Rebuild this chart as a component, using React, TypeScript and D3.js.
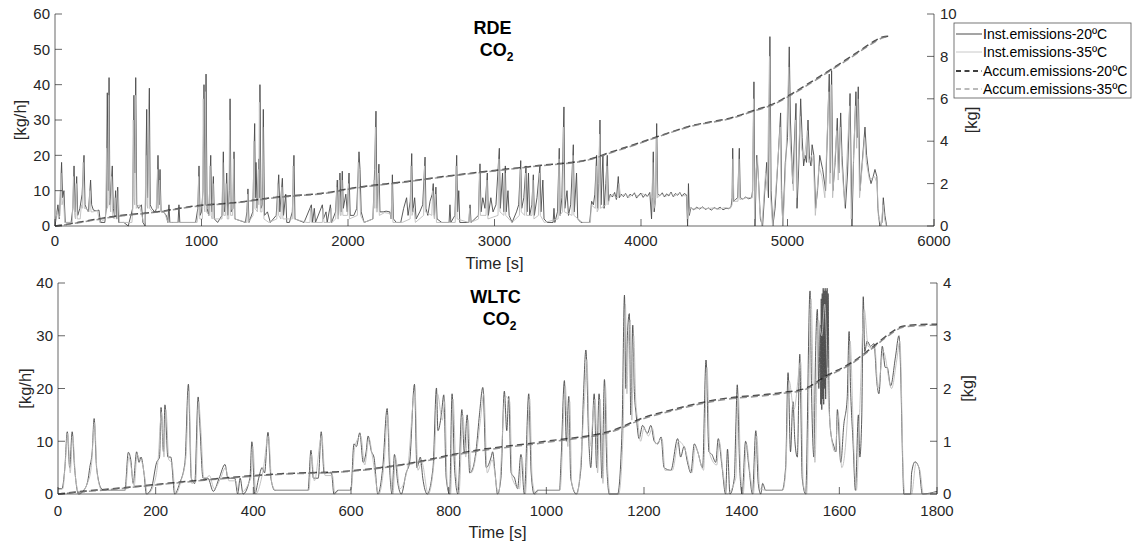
import React from 'react';
import * as d3 from 'd3';

type P = [number, number];

// ---------- RDE (top) ----------
const rdeXTicks = [0, 1000, 2000, 3000, 4000, 5000, 6000];
const rdeYTicks = [0, 10, 20, 30, 40, 50, 60];
const rdeY2Ticks = [0, 2, 4, 6, 8, 10];

const rdeInst20: P[] = [[0,0],[10,3],[20,6],[30,2],[45,18],[52,8],[61,10],[70,1],[90,1],[110,1],[122,5],[130,17],[138,4],[148,14],[155,3],[170,5],[185,9],[198,20],[205,6],[215,5],[228,4],[243,13],[250,6],[262,4.5],[280,4.3],[300,4.5],[310,1],[340,1],[350,5],[357,37.7],[363,10],[369,42],[375,6],[391,17],[398,5],[406,3],[414,10],[420,2],[428,11],[435,1],[470,1],[500,0],[530,5],[539,37],[545,15],[551,42],[558,6],[570,5],[590,6],[600,1],[615,0],[626,33],[632,8],[644,39],[650,6],[660,5],[680,4],[695,5],[703,20],[710,6],[717,16],[724,4],[740,4],[760,3],[770,1],[778,6],[784,1],[840,1],[846,6],[852,1],[960,1],[975,5],[983,17],[990,3],[1000,4],[1010,10],[1017,40],[1024,6],[1031,43],[1038,5],[1050,3],[1063,20],[1070,4],[1081,14],[1088,2],[1110,1],[1140,3],[1149,21],[1156,4],[1165,6],[1172,15],[1180,3],[1190,10],[1195,36],[1202,4],[1215,5],[1222,21],[1228,2],[1300,1],[1310,4],[1317,10.5],[1324,1],[1350,4],[1363,29],[1368,8],[1372,18],[1380,5],[1392,19],[1396,8],[1399,40],[1406,5],[1415,6],[1422,33],[1430,3],[1450,4],[1470,1],[1510,3],[1527,14.5],[1535,4],[1552,13.5],[1560,3],[1575,9],[1582,1],[1600,1],[1620,4],[1631,20],[1638,2],[1700,1],[1750,6],[1758,1],[1770,5],[1778,1],[1825,6],[1832,2],[1850,4],[1858,1],[1880,6],[1888,1],[1915,4],[1927,13],[1935,3],[1945,15],[1953,4],[1961,15.5],[1968,5],[1985,9],[1995,4],[2007,15],[2015,3],[2040,3],[2060,5],[2075,21],[2082,16],[2090,4],[2110,1],[2170,2],[2182,16],[2191,32.5],[2198,5],[2211,17.5],[2218,4],[2240,4],[2260,4.2],[2285,4],[2295,2],[2303,14.5],[2310,2],[2330,1],[2360,1],[2380,5],[2400,8],[2410,3],[2425,7],[2435,20.5],[2442,4],[2455,8],[2465,2],[2490,4],[2510,6],[2526,19.5],[2532,5],[2545,3],[2560,7],[2575,9],[2582,12],[2590,3],[2600,11],[2608,2],[2640,1],[2690,1],[2696,6],[2702,1],[2730,3],[2742,20],[2748,4],[2756,10],[2763,1],[2825,1],[2833,6],[2840,1],[2890,3],[2901,17.6],[2908,4],[2920,8],[2935,5],[2951,15],[2958,3],[2975,8],[2990,4],[3010,6],[3033,22],[3040,5],[3055,15],[3063,4],[3074,17],[3080,4],[3092,10],[3100,3],[3120,1],[3150,4],[3165,6],[3179,18.5],[3186,5],[3200,8],[3215,17],[3222,4],[3232,15],[3240,3],[3255,6],[3265,14.5],[3272,3],[3290,8],[3310,17],[3317,4],[3330,13],[3338,2],[3360,1],[3400,1],[3406,5],[3412,1],[3430,4],[3442,22],[3448,3],[3460,8],[3474,33.7],[3480,5],[3495,10],[3505,3],[3520,6],[3538,23],[3545,4],[3560,15],[3568,2],[3590,1],[3650,1],[3663,7],[3675,6],[3685,9],[3697,20],[3704,5],[3712,12],[3720,30],[3727,6],[3740,20],[3748,5],[3760,12],[3770,20],[3778,7],[3790,9],[3805,8.2],[3820,9.5],[3832,7.5],[3845,14],[3852,8],[3865,9],[3880,8.3],[3895,9.2],[3910,8],[3925,9],[3940,8.5],[3955,9.4],[3970,7.9],[3985,8.8],[4000,9.3],[4015,8.1],[4030,9],[4045,8.4],[4060,9.5],[4072,2],[4084,21],[4090,4],[4100,8],[4107,29],[4114,9],[4130,8.6],[4145,9.4],[4160,8.2],[4175,9.1],[4190,8.5],[4205,9.6],[4220,8.3],[4235,9.2],[4250,8.7],[4265,9.5],[4280,8.4],[4295,9.2],[4311,8.8],[4318,0],[4324,12],[4330,3],[4340,5.2],[4360,4.6],[4380,5.3],[4400,4.8],[4420,5.4],[4440,4.7],[4460,5.1],[4480,4.5],[4500,5.2],[4520,4.8],[4540,5.3],[4560,4.6],[4580,5],[4600,4.9],[4615,5.5],[4622,8],[4626,22],[4632,7],[4645,7.5],[4660,8],[4671,22],[4678,8],[4695,7.6],[4715,8.2],[4735,7.7],[4755,8],[4762,10],[4771,40.8],[4778,0],[4790,20],[4800,15],[4815,2],[4830,0],[4845,10],[4858,18],[4870,8],[4880,53.6],[4888,10],[4900,0],[4915,5],[4930,15],[4953,32],[4960,10],[4968,0],[4985,18],[5000,25],[5012,50.7],[5020,30],[5035,12],[5058,34.7],[5065,5],[5075,15],[5090,36],[5100,25],[5110,17],[5120,20],[5130,18],[5140,30],[5150,19],[5160,17],[5168,23],[5180,20],[5192,5],[5205,10],[5220,20],[5240,16],[5260,10],[5285,43],[5293,15],[5301,44],[5310,10],[5325,18],[5340,30.5],[5350,15],[5363,32],[5372,20],[5385,10],[5395,5],[5410,15],[5427,37.5],[5440,0],[5452,20],[5467,38],[5475,25],[5483,39.4],[5495,10],[5510,18],[5529,28],[5540,20],[5555,15],[5570,12],[5585,14],[5597,16],[5610,14],[5617,5],[5630,0],[5645,1],[5654,8],[5665,3],[5677,0]];

const rdeInst35: P[] = [[0,1],[15,4],[25,2],[33,3],[40,15],[48,6],[58,8],[66,1],[118,1],[126,14],[134,3],[140,2],[145,12],[152,2],[172,2],[180,6],[186,5],[192,18],[200,5],[212,5],[232,4],[238,10],[246,4],[260,4],[290,4.4],[305,1],[345,2],[352,22],[358,5],[362,6],[366,37],[372,8],[380,4],[386,14],[394,3],[404,2],[410,8],[418,2],[426,2],[432,10],[440,1],[525,1],[530,4],[534,30],[540,8],[544,6],[548,37],[555,5],[575,6],[605,1],[615,1],[620,20],[628,6],[633,5],[638,33],[646,5],[665,4],[690,4],[700,16],[707,5],[714,13],[722,4],[745,4],[772,1],[800,1],[970,1],[976,3],[980,14],[988,2],[1006,2],[1012,36],[1019,5],[1023,4],[1027,38],[1034,4],[1052,3],[1058,17],[1066,3],[1073,2],[1078,12],[1085,2],[1140,2],[1145,18],[1152,3],[1163,3],[1168,12],[1176,2],[1186,2],[1192,30],[1199,3],[1212,3],[1218,19],[1225,2],[1310,1],[1315,9],[1320,1],[1352,3],[1358,24],[1365,5],[1382,4],[1388,16],[1391,6],[1395,35],[1402,4],[1413,4],[1418,28],[1426,2],[1460,1],[1514,2],[1520,12],[1527,3],[1542,2],[1548,11],[1556,2],[1620,2],[1625,17],[1632,2],[1720,1],[1740,1],[1745,5],[1752,1],[1825,1],[1830,5],[1836,1],[1880,1],[1885,5],[1890,1],[1916,2],[1922,11],[1930,2],[1935,2],[1940,13],[1948,3],[1953,3],[1958,13],[1965,3],[1997,3],[2003,12],[2010,2],[2064,3],[2070,18],[2078,12],[2086,3],[2110,1],[2172,2],[2178,13],[2183,5],[2187,28],[2194,4],[2201,4],[2207,15],[2214,3],[2250,3.8],[2290,3.5],[2295,2],[2300,12],[2307,1],[2370,1],[2424,2],[2430,17],[2437,3],[2450,5],[2460,1],[2516,3],[2522,17],[2528,4],[2572,3],[2578,10],[2585,3],[2590,2],[2596,9],[2604,1],[2732,1],[2738,17],[2745,2],[2824,1],[2830,5],[2836,1],[2891,2],[2897,15],[2904,3],[2942,3],[2948,13],[2955,2],[3024,3],[3030,19],[3037,4],[3064,3],[3070,15],[3077,3],[3120,1],[3170,3],[3176,16],[3183,4],[3206,3],[3212,15],[3219,3],[3256,3],[3262,13],[3269,2],[3300,3],[3306,15],[3313,3],[3340,1],[3434,2],[3440,19],[3446,3],[3464,4],[3470,28],[3477,4],[3529,3],[3535,20],[3542,3],[3600,1],[3655,1],[3660,6],[3688,5],[3694,17],[3701,4],[3711,5],[3717,26],[3724,5],[3761,6],[3767,17],[3775,6],[3790,8.5],[3810,9],[3830,8],[3843,8],[3850,12],[3860,8.5],[3890,9],[3920,8.2],[3950,9.1],[3980,8.4],[4010,9.2],[4040,8.3],[4070,9],[4076,8],[4080,18],[4088,5],[4098,7],[4104,25],[4112,8],[4140,9],[4170,8.4],[4200,9.2],[4230,8.5],[4260,9.3],[4290,8.6],[4312,8.5],[4320,2],[4335,5],[4370,4.8],[4410,5.2],[4450,4.9],[4490,5.1],[4530,4.7],[4570,5.2],[4610,5],[4622,6],[4628,19],[4634,7],[4662,7],[4668,19],[4675,7.5],[4720,8],[4760,8],[4768,36],[4775,2],[4785,15],[4795,20],[4810,5],[4825,0],[4850,15],[4862,10],[4877,48],[4885,8],[4898,0],[4920,10],[4950,28],[4958,8],[4970,0],[4990,20],[5008,45],[5016,25],[5040,10],[5055,30],[5062,8],[5087,31],[5095,22],[5115,19],[5135,27],[5145,18],[5165,20],[5178,17],[5190,3],[5215,17],[5235,14],[5255,8],[5282,38],[5290,12],[5298,40],[5308,8],[5336,27],[5346,13],[5360,28],[5370,18],[5390,6],[5424,34],[5435,2],[5450,18],[5464,34],[5472,22],[5480,36],[5492,8],[5526,25],[5538,18],[5560,13],[5594,14],[5612,12],[5620,3],[5640,0],[5652,6],[5662,2],[5675,0]];

const rdeAcc20: P[] = [[0,0],[100,0.1],[200,0.22],[400,0.45],[700,0.67],[1000,0.98],[1200,1.08],[1500,1.35],[1900,1.62],[2000,1.75],[2400,2.1],[2650,2.33],[3000,2.62],[3300,2.85],[3650,3.15],[3780,3.45],[4000,3.95],[4110,4.21],[4340,4.72],[4630,5.13],[4770,5.45],[4900,5.75],[5020,6.2],[5150,6.75],[5300,7.4],[5400,7.85],[5500,8.3],[5600,8.75],[5650,8.92],[5690,8.95]];
const rdeAcc35: P[] = [[0,0],[100,0.09],[200,0.2],[400,0.43],[700,0.66],[1000,0.96],[1200,1.07],[1500,1.33],[1900,1.6],[2000,1.73],[2400,2.08],[2650,2.31],[3000,2.6],[3300,2.83],[3650,3.13],[3780,3.42],[4000,3.92],[4110,4.19],[4340,4.7],[4630,5.1],[4770,5.42],[4900,5.72],[5020,6.16],[5150,6.7],[5300,7.36],[5400,7.8],[5500,8.26],[5600,8.7],[5650,8.88],[5690,8.92]];

// ---------- WLTC (bottom) ----------
const wltcXTicks = [0, 200, 400, 600, 800, 1000, 1200, 1400, 1600, 1800];
const wltcYTicks = [0, 10, 20, 30, 40];
const wltcY2Ticks = [0, 1, 2, 3, 4];

const wltcInst20: P[] = [[0,1],[8,1],[14,4.9],[19,11.8],[24,5],[29,11.8],[34,5],[42,0],[55,1],[62,3],[65,5],[70,8],[74,14.3],[79,5],[89,1],[96,0.7],[137,0.7],[144,7.9],[149,6.5],[154,2],[161,8],[166,6],[170,7],[176,4],[181,0],[191,1],[202,6],[208,7],[211,16.4],[216,8],[219,16.9],[225,7],[231,7],[239,0],[249,2],[260,6],[267,20.8],[273,3],[280,2],[287,18.4],[290,14],[297,3],[307,3],[318,0.5],[330,3],[342,5.6],[348,3],[362,3],[368,0],[373,3],[379,0],[393,3],[397,9.9],[403,0],[411,3],[418,5],[423,4],[430,11.7],[436,3],[444,0.7],[512,0.7],[518,8.3],[523,3],[533,3],[539,11.8],[545,4],[553,4],[560,4],[565,0],[573,0.7],[597,0.7],[600,1],[606,9.5],[611,9],[618,11.6],[625,6],[631,8],[635,11],[642,8],[647,7],[655,0],[665,5],[674,16.2],[679,5],[684,0],[689,7.5],[696,2],[703,0],[713,4],[720,6],[730,20.8],[735,5],[742,7],[747,3],[756,0],[768,5],[775,20.1],[778,12],[785,15],[790,18.8],[795,3],[802,0],[807,19],[812,5],[819,0],[827,16],[832,8],[838,15],[843,4],[850,5],[857,9],[863,15],[870,20.2],[877,5],[887,7],[890,8],[895,4],[900,0],[907,3],[914,19.5],[919,12],[923,18.5],[928,4],[935,3],[941,1],[948,7.5],[955,0],[964,19],[969,4],[975,0],[982,0.7],[1027,0.7],[1030,6],[1037,21.5],[1041,10],[1046,18.5],[1050,3],[1061,0],[1071,5],[1076,18.5],[1081,27.3],[1087,10],[1091,5],[1098,19],[1103,5],[1108,19],[1114,3],[1119,21.7],[1124,5],[1129,0],[1146,0],[1155,12],[1160,37.7],[1163,20],[1166,30],[1170,34.2],[1173,15],[1177,32],[1180,20],[1184,15],[1190,10.5],[1197,13],[1207,11.5],[1214,13],[1221,10],[1228,9.5],[1235,10.8],[1241,5],[1255,4.5],[1269,10.5],[1275,7],[1282,9],[1289,6],[1296,4],[1303,9.5],[1310,8],[1320,5],[1327,25.4],[1333,8],[1339,7.5],[1347,6],[1352,10.5],[1360,5],[1367,0],[1371,8.5],[1376,0],[1385,3],[1388,12.5],[1391,20.7],[1396,5],[1401,0],[1408,10],[1415,5],[1422,0],[1429,12],[1434,2],[1439,0],[1443,2],[1449,0.7],[1483,0.7],[1490,5],[1495,23],[1500,8],[1505,17.5],[1509,10],[1514,7],[1519,26.5],[1521,18],[1524,3],[1531,0],[1540,38.5],[1543,20],[1548,7],[1551,25],[1555,35],[1558,20],[1561,32],[1562,17],[1563,37],[1564,16],[1565,38],[1566,18],[1567,39],[1568,17],[1569,38.5],[1570,20],[1571,39],[1572,18],[1573,38.5],[1574,22],[1575,39],[1576,24],[1577,38],[1579,18],[1582,12],[1589,9],[1593,8],[1596,16],[1603,6],[1609,13],[1616,18],[1620,30.8],[1623,20],[1628,10],[1633,0.7],[1639,15],[1642,7],[1646,15],[1649,37.4],[1652,27],[1657,29],[1664,28],[1671,28.5],[1677,21],[1681,19],[1688,28],[1694,24],[1698,24],[1705,20.5],[1715,26],[1722,30],[1725,25],[1730,5],[1732,0],[1746,0],[1748,4],[1755,6.1],[1763,5],[1770,0],[1800,0.5]];

const wltcInst35: P[] = [[0,0.8],[10,1],[15,6],[20,11.5],[25,4],[30,11],[36,3],[44,0],[60,2],[68,5],[75,13.5],[80,4],[90,0.7],[138,0.7],[145,7],[150,5],[156,1.5],[162,7.5],[168,6.5],[172,6],[178,3],[183,0],[195,1.5],[205,6.5],[212,15.5],[217,7],[221,16],[227,6.5],[233,6],[241,0],[252,2.5],[262,7],[268,19.5],[274,2],[282,2.5],[288,17.5],[292,13],[299,2.5],[310,3.5],[320,1],[333,3],[343,5],[350,2.5],[364,2.5],[370,0],[395,3],[399,9],[405,0],[420,4.5],[431,11],[438,2],[446,0.7],[514,0.7],[519,7.5],[525,2.5],[540,11],[547,3.5],[562,3.5],[567,0],[575,0.7],[600,0.7],[608,9],[620,11],[628,5.5],[637,10.5],[644,7],[657,0],[668,6],[675,15],[681,4],[686,0],[691,7],[700,1],[716,5],[731,19.5],[737,4.5],[745,6],[758,0],[770,6],[777,19],[787,14],[792,17.5],[797,2],[804,0],[809,18],[815,4],[821,0],[829,15],[835,7],[840,14],[846,4],[858,8.5],[865,14],[872,19],[879,4],[889,6.5],[902,0],[916,18.5],[925,17.5],[930,3],[945,1],[950,7],[957,0],[966,18],[971,3],[978,0],[984,0.7],[1028,0.7],[1039,20.5],[1044,9],[1048,17.5],[1052,2],[1063,0],[1078,17.5],[1083,25.5],[1089,9],[1100,18],[1105,4],[1110,18],[1116,2],[1121,20.5],[1126,4],[1131,0],[1148,0],[1157,11],[1162,36],[1165,19],[1168,29],[1172,33],[1175,14],[1179,30],[1183,18],[1187,14],[1193,10],[1200,12.5],[1209,11],[1217,12.5],[1224,9.5],[1237,10.5],[1243,4.5],[1258,4.5],[1271,10],[1284,8.5],[1298,4],[1305,9],[1322,4.5],[1329,24],[1335,7.5],[1349,5.5],[1354,10],[1362,4],[1369,0],[1388,3],[1393,19],[1398,4],[1403,0],[1410,9.5],[1417,4],[1424,0],[1431,11],[1437,1],[1451,0.7],[1484,0.7],[1490,4],[1497,21.5],[1507,16],[1521,25],[1526,2],[1533,0],[1542,37],[1550,6],[1557,33],[1564,30],[1570,36],[1578,17],[1591,8],[1598,15],[1605,5],[1618,17],[1622,29],[1630,8],[1635,0.7],[1641,14],[1651,35],[1659,28],[1673,27.5],[1679,20],[1690,27],[1707,20],[1717,25],[1724,29],[1731,4],[1734,0],[1748,0],[1757,5.8],[1765,4.5],[1772,0],[1800,0.3]];

const wltcAcc20: P[] = [[0,0],[50,0.05],[100,0.09],[200,0.18],[300,0.27],[450,0.38],[600,0.44],[700,0.55],[850,0.82],[1000,1.0],[1140,1.22],[1200,1.45],[1250,1.58],[1350,1.79],[1480,1.92],[1530,2.0],[1570,2.22],[1630,2.52],[1670,2.8],[1700,3.02],[1730,3.18],[1760,3.21],[1800,3.22]];
const wltcAcc35: P[] = [[0,0],[50,0.04],[100,0.08],[200,0.17],[300,0.26],[450,0.37],[600,0.43],[700,0.54],[850,0.8],[1000,0.98],[1140,1.2],[1200,1.43],[1250,1.56],[1350,1.77],[1480,1.9],[1530,1.98],[1570,2.2],[1630,2.5],[1670,2.78],[1700,3.0],[1730,3.16],[1760,3.19],[1800,3.2]];

const legendLabels = ['Inst.emissions-20ºC', 'Inst.emissions-35ºC', 'Accum.emissions-20ºC', 'Accum.emissions-35ºC'];

const FONT = '"Liberation Sans", Arial, Helvetica, sans-serif';
const AX = '#262626';
const C_INST20 = '#4a4a4a';
const C_INST35 = '#bdbdbd';
const C_ACC20 = '#111111';
const C_ACC35 = '#7a7a7a';

type PanelProps = {
  left: number; right: number; top: number; bottom: number;
  xTicks: number[]; yTicks: number[]; y2Ticks: number[];
  inst20: P[]; inst35: P[]; acc20: P[]; acc35: P[]; smooth: boolean;
  title: string; titleY: number; coY: number;
  yLabX: number; y2LabX: number; xTickY: number; xLabY: number;
};

function Panel(p: PanelProps) {
  const x = d3.scaleLinear().domain([p.xTicks[0], p.xTicks[p.xTicks.length - 1]]).range([p.left, p.right]);
  const y = d3.scaleLinear().domain([p.yTicks[0], p.yTicks[p.yTicks.length - 1]]).range([p.bottom, p.top]);
  const y2 = d3.scaleLinear().domain([p.y2Ticks[0], p.y2Ticks[p.y2Ticks.length - 1]]).range([p.bottom, p.top]);
  const l1 = d3.line<P>().x(d => x(d[0])).y(d => y(Math.max(0, d[1]))).curve(p.smooth ? d3.curveMonotoneX : d3.curveLinear);
  const l2 = d3.line<P>().x(d => x(d[0])).y(d => y2(d[1])).curve(d3.curveMonotoneX);
  const tl = 7;
  const cx = (p.left + p.right) / 2;
  const midY = (p.top + p.bottom) / 2;
  return (
    <g fontFamily={FONT}>
      <path d={l1(p.inst20) || ''} fill="none" stroke={C_INST20} strokeWidth={0.9} />
      <path d={l1(p.inst35) || ''} fill="none" stroke={C_INST35} strokeWidth={0.9} />
      <path d={l2(p.acc20) || ''} fill="none" stroke={C_ACC20} strokeWidth={1.5} strokeDasharray="7,4" opacity={0.75} />
      <path d={l2(p.acc35) || ''} fill="none" stroke={C_ACC35} strokeWidth={1.5} strokeDasharray="7,4" strokeDashoffset={2} opacity={0.8} />
      <line x1={p.left} x2={p.left} y1={p.top} y2={p.bottom} stroke={AX} strokeWidth={0.7} />
      <line x1={p.right} x2={p.right} y1={p.top} y2={p.bottom} stroke={AX} strokeWidth={0.7} />
      <line x1={p.left} x2={p.right} y1={p.bottom} y2={p.bottom} stroke={AX} strokeWidth={0.7} />
      {p.yTicks.map(t => (
        <g key={'y' + t}>
          <line x1={p.left} x2={p.left + tl} y1={y(t)} y2={y(t)} stroke={AX} strokeWidth={0.7} />
          <text x={p.left - 5} y={y(t)} dy="0.35em" textAnchor="end" fontSize={15} fill={AX}>{t}</text>
        </g>
      ))}
      {p.y2Ticks.map(t => (
        <g key={'y2' + t}>
          <line x1={p.right} x2={p.right - tl} y1={y2(t)} y2={y2(t)} stroke={AX} strokeWidth={0.7} />
          <text x={p.right + 6} y={y2(t)} dy="0.35em" textAnchor="start" fontSize={15} fill={AX}>{t}</text>
        </g>
      ))}
      {p.xTicks.map(t => (
        <g key={'x' + t}>
          <line x1={x(t)} x2={x(t)} y1={p.bottom} y2={p.bottom - tl} stroke={AX} strokeWidth={0.7} />
          <text x={x(t)} y={p.xTickY} dy="0.35em" textAnchor="middle" fontSize={15} fill={AX}>{t}</text>
        </g>
      ))}
      <text x={cx} y={p.xLabY} dy="0.35em" textAnchor="middle" fontSize={16.5} fill={AX}>Time [s]</text>
      <text transform={`translate(${p.yLabX},${midY}) rotate(-90)`} textAnchor="middle" dy="0.35em" fontSize={16.5} fill={AX}>[kg/h]</text>
      <text transform={`translate(${p.y2LabX},${midY}) rotate(-90)`} textAnchor="middle" dy="0.35em" fontSize={16.5} fill={AX}>[kg]</text>
      <text x={cx - 2} y={p.titleY} dy="0.35em" textAnchor="middle" fontSize={18} fontWeight="bold" fill="#000">{p.title}</text>
      <text x={cx + 2} y={p.coY} dy="0.35em" textAnchor="middle" fontSize={18} fontWeight="bold" fill="#000">CO<tspan dy={5} fontSize={12}>2</tspan></text>
    </g>
  );
}

function Legend() {
  const x0 = 954, y0 = 23, w = 177, h = 75;
  const rows = [34, 52, 71, 89];
  const styles = [
    { c: C_INST20, d: undefined, w: 1 },
    { c: '#c8c8c8', d: undefined, w: 1 },
    { c: '#000', d: '5,3.5', w: 1.6 },
    { c: '#777', d: '5,3.5', w: 1.2 },
  ];
  return (
    <g fontFamily={FONT}>
      <rect x={x0} y={y0} width={w} height={h} fill="#fff" stroke="#555" strokeWidth={0.8} />
      {legendLabels.map((lab, i) => (
        <g key={lab}>
          <line x1={x0 + 2} x2={x0 + 28} y1={rows[i]} y2={rows[i]} stroke={styles[i].c} strokeWidth={styles[i].w} strokeDasharray={styles[i].d} />
          <text x={x0 + 29} y={rows[i]} dy="0.35em" fontSize={14} fill="#000">{lab}</text>
        </g>
      ))}
    </g>
  );
}

export default function App() {
  return (
    <svg width={1135} height={544} style={{ position: 'absolute', left: 0, top: 0, background: '#fff' }}>
      <rect width={1135} height={544} fill="#fff" />
      <Panel left={55} right={934} top={14} bottom={226}
        xTicks={rdeXTicks} yTicks={rdeYTicks} y2Ticks={rdeY2Ticks}
        inst20={rdeInst20} inst35={rdeInst35} acc20={rdeAcc20} acc35={rdeAcc35} smooth={false}
        title="RDE" titleY={28} coY={50} yLabX={20} y2LabX={971} xTickY={241} xLabY={263} />
      <Panel left={58} right={937} top={283} bottom={494}
        xTicks={wltcXTicks} yTicks={wltcYTicks} y2Ticks={wltcY2Ticks}
        inst20={wltcInst20} inst35={wltcInst35} acc20={wltcAcc20} acc35={wltcAcc35} smooth={true}
        title="WLTC" titleY={297} coY={319} yLabX={25} y2LabX={967} xTickY={511} xLabY={532} />
      <Legend />
    </svg>
  );
}
